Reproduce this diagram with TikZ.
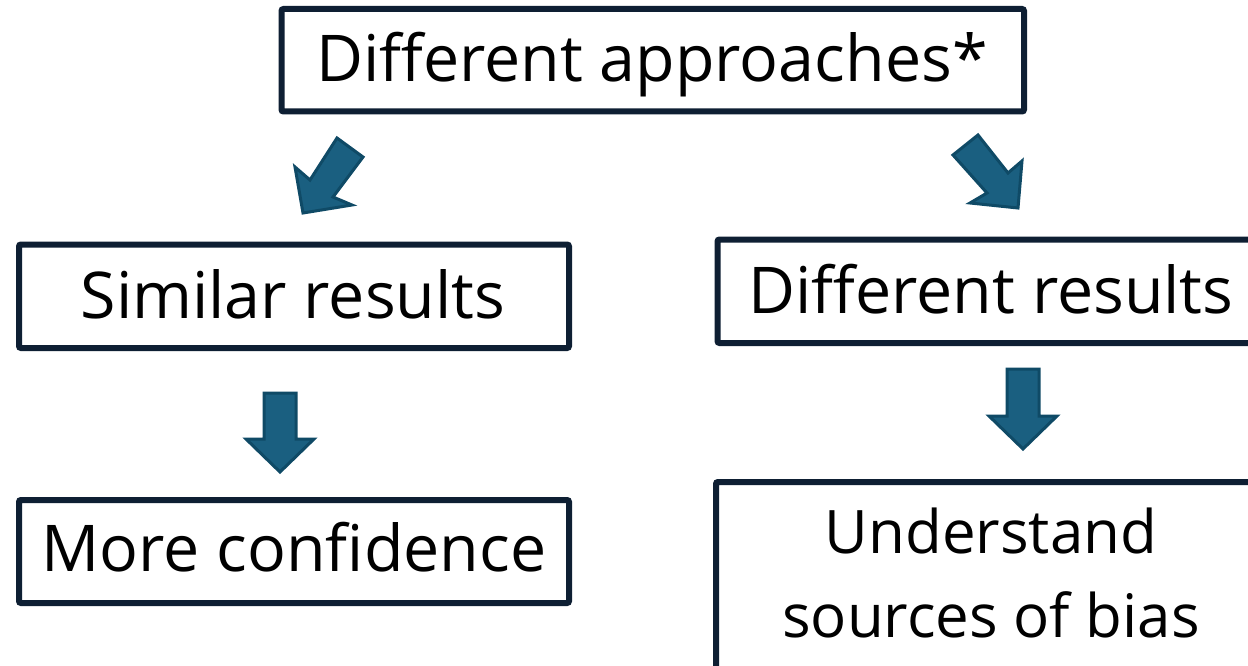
\documentclass[tikz,border=0pt]{standalone}
\usepackage{fontspec}
\setmainfont{Open Sans}
\definecolor{boxline}{HTML}{0E1F33}
\definecolor{arrowfill}{HTML}{1A5F80}
\definecolor{arrowline}{HTML}{0F4A66}
\tikzset{
  box/.style={draw=boxline, line width=6pt, rounded corners=2pt, fill=white},
  label/.style={inner sep=0pt, anchor=base, font=\fontsize{64.5}{78}\selectfont, text=black},
  blockarrow/.style={fill=arrowfill, draw=arrowline, line width=3pt, line join=miter},
}
\begin{document}
\begin{tikzpicture}[x=1pt, y=-1pt]
\useasboundingbox (0,0) rectangle (1248,666);
\begin{scope}
\clip (0,0) rectangle (1248,666);
% boxes
\draw[box] (281.5,9) rectangle (1024,111.5);
\draw[box] (19,244.5) rectangle (569,348);
\draw[box] (19,500) rectangle (569,603);
\draw[box] (717.5,239.5) rectangle (1290,343);
\draw[box] (716,482) rectangle (1290,720);
\end{scope}
% texts
\node[label] (top) at (652,82) {Different approaches*};
\node[label] (sim) at (293,318) {Similar results};
\node[label] (conf) at (294,571) {More confidence};
\node[label] (diff) at (991,313) {Different results};
\node[label, font=\fontsize{60}{84}\selectfont] (und) at (991,553) {Understand};
\node[label, font=\fontsize{60}{84}\selectfont] (bias) at (991,637) {sources of bias};
% block arrows
\draw[blockarrow] (337,138) -- (363,157) -- (333,197) -- (352,205) -- (303,213) -- (295,167) -- (310,180) -- cycle;
\draw[blockarrow] (953,155) -- (978,135) -- (1008,173) -- (1022,161) -- (1018,208) -- (970,203) -- (987,193) -- cycle;
\draw[blockarrow] (264,393) -- (296,393) -- (296,439) -- (314,439) -- (280,472) -- (246,439) -- (264,439) -- cycle;
\draw[blockarrow] (1007,369) -- (1039,369) -- (1039,416) -- (1057,416) -- (1023,449) -- (989,416) -- (1007,416) -- cycle;
\end{tikzpicture}
\end{document}
